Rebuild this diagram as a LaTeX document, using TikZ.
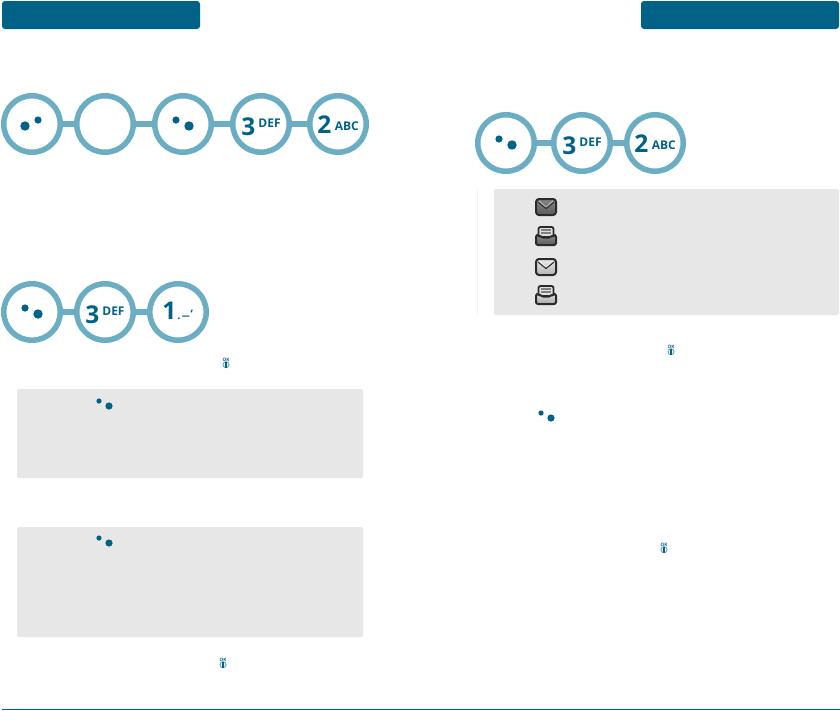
\documentclass[tikz,border=0pt]{standalone}
\usepackage{fontspec}
\setmainfont{Open Sans}
\definecolor{deepblue}{HTML}{006287}
\definecolor{ringblue}{HTML}{6BADC3}
\definecolor{panelgray}{HTML}{E7E7E7}
\definecolor{icondark}{HTML}{2A2A2A}
\tikzset{
  x=1pt,y=-1pt,
  header/.style={fill=deepblue,rounded corners=3pt},
  panel/.style={fill=panelgray,rounded corners=2pt},
  keyring/.style={circle,draw=ringblue,line width=5.5pt,minimum size=56.5pt,inner sep=0pt,text=deepblue,fill=white},
  keylink/.style={draw=ringblue,line width=5.5pt},
}
\newcommand{\dig}[1]{{\fontsize{24.5}{25}\selectfont\bfseries #1}}
\newcommand{\sml}[1]{{\fontsize{12}{12}\selectfont\bfseries #1}}
\newcommand{\threedef}{\rule{0pt}{24pt}\dig{3}\hspace{3pt}\raisebox{8pt}{\sml{DEF}}}
\newcommand{\twoabc}{\rule{0pt}{18pt}\dig{2}\hspace{3.5pt}\raisebox{3pt}{\sml{ABC}}}
\newcommand{\onepunct}{\rule[-3pt]{0pt}{20pt}\dig{1}\hspace{1pt}{\fontsize{11}{12}\selectfont\bfseries .\hspace{2pt}\raisebox{4.5pt}{\fontsize{17}{17}\selectfont\_}\hspace{1pt}\raisebox{8pt}{,}}}
\newcommand{\dotsL}[2]{\fill[deepblue] (#1-7,#2+2) circle (4.7) (#1+6,#2-4) circle (3.6);}
\newcommand{\dotsR}[2]{\fill[deepblue] (#1-7,#2-4) circle (3.6) (#1+6,#2+2) circle (4.7);}
\newcommand{\dotsSmall}[2]{\fill[deepblue] (#1,#2) circle (2.6) (#1+10,#2+5) circle (3.6);}
\newcommand{\okicon}[3]{\node[inner sep=0pt,text=deepblue,font=\fontsize{4.6}{5}\selectfont\bfseries] (#3) at (#1,#2-3.5) {OK};
  \draw[ringblue,line width=1pt,fill=white] (#1,#2+1.7) circle (3);
  \fill[deepblue] (#1-1,#2-1) rectangle (#1+1,#2+4.5);}
\newcommand{\mailicon}[4]{\draw[icondark,line width=2pt,top color=#3,bottom color=#4,rounded corners=3pt] (#1-10,#2-8) rectangle (#1+10,#2+8);
  \draw[icondark,line width=1.1pt,line join=round] (#1-8,#2-5) -- (#1,#2+1.5) -- (#1+8,#2-5);
  \draw[white,opacity=.55,line width=.8pt,line join=round] (#1-7,#2-6) -- (#1,#2) -- (#1+7,#2-6);}
\newcommand{\trayicon}[4]{\draw[icondark,line width=1.8pt,fill=white!88!black,rounded corners=2pt] (#1-7.5,#2-9) rectangle (#1+7.5,#2+1);
  \draw[gray,line width=1.1pt] (#1-5,#2-6) -- (#1+5,#2-6) (#1-5,#2-3) -- (#1+5,#2-3);
  \draw[icondark,line width=2pt,line join=round,top color=#3,bottom color=#4,rounded corners=2pt] (#1-10,#2-1) -- (#1-7,#2-1) -- (#1-5,#2+1.5) -- (#1+5,#2+1.5) -- (#1+7,#2-1) -- (#1+10,#2-1) -- (#1+10,#2+9) -- (#1-10,#2+9) -- cycle;}
\begin{document}
\begin{tikzpicture}
\useasboundingbox (0,0) rectangle (840,710);
\fill[white] (0,0) rectangle (840,710);
\fill[header] (2,1) rectangle (200,29);
\fill[header] (641,1) rectangle (839,29);
\fill[panel] (17,389) rectangle (363,478);
\fill[panel] (17,527) rectangle (363,637);
\fill[panel] (494,189) rectangle (839,315);
\draw[panelgray!60!white,line width=.5pt] (477,189) -- (477,315);
\node[keyring] (a1) at (32,124) {};
\node[keyring] (a2) at (105,124) {};
\node[keyring] (a3) at (183,124) {};
\node[keyring] (a4) at (261,124) {\threedef};
\node[keyring] (a5) at (338,124) {\twoabc};
\draw[keylink] (a1) -- (a2);
\draw[keylink] (a2) -- (a3);
\draw[keylink] (a3) -- (a4);
\draw[keylink] (a4) -- (a5);
\dotsL{32}{124}
\dotsR{183}{124}
\node[keyring] (b1) at (32,312) {};
\node[keyring] (b2) at (105,312) {\threedef};
\node[keyring] (b3) at (178,312) {\onepunct};
\draw[keylink] (b1) -- (b2);
\draw[keylink] (b2) -- (b3);
\dotsR{32}{312}
\node[keyring] (c1) at (506,143) {};
\node[keyring] (c2) at (582,143) {\threedef};
\node[keyring] (c3) at (655,143) {\twoabc};
\draw[keylink] (c1) -- (c2);
\draw[keylink] (c2) -- (c3);
\dotsR{506}{143}
\dotsSmall{99}{401}
\dotsSmall{99}{538}
\dotsSmall{541}{413}
\okicon{226}{363}{ok1}
\okicon{671}{350}{ok2}
\okicon{664}{548}{ok3}
\okicon{223}{663}{ok4}
\mailicon{546}{207}{gray!95!white}{gray!70!black}
\trayicon{546}{236}{gray!90!white}{gray!70!black}
\mailicon{546}{267}{white!92!black}{white!70!black}
\trayicon{546}{295}{white!88!black}{white!65!black}
\draw[deepblue,line width=1pt] (2,709.5) -- (840,709.5);
\end{tikzpicture}
\end{document}
